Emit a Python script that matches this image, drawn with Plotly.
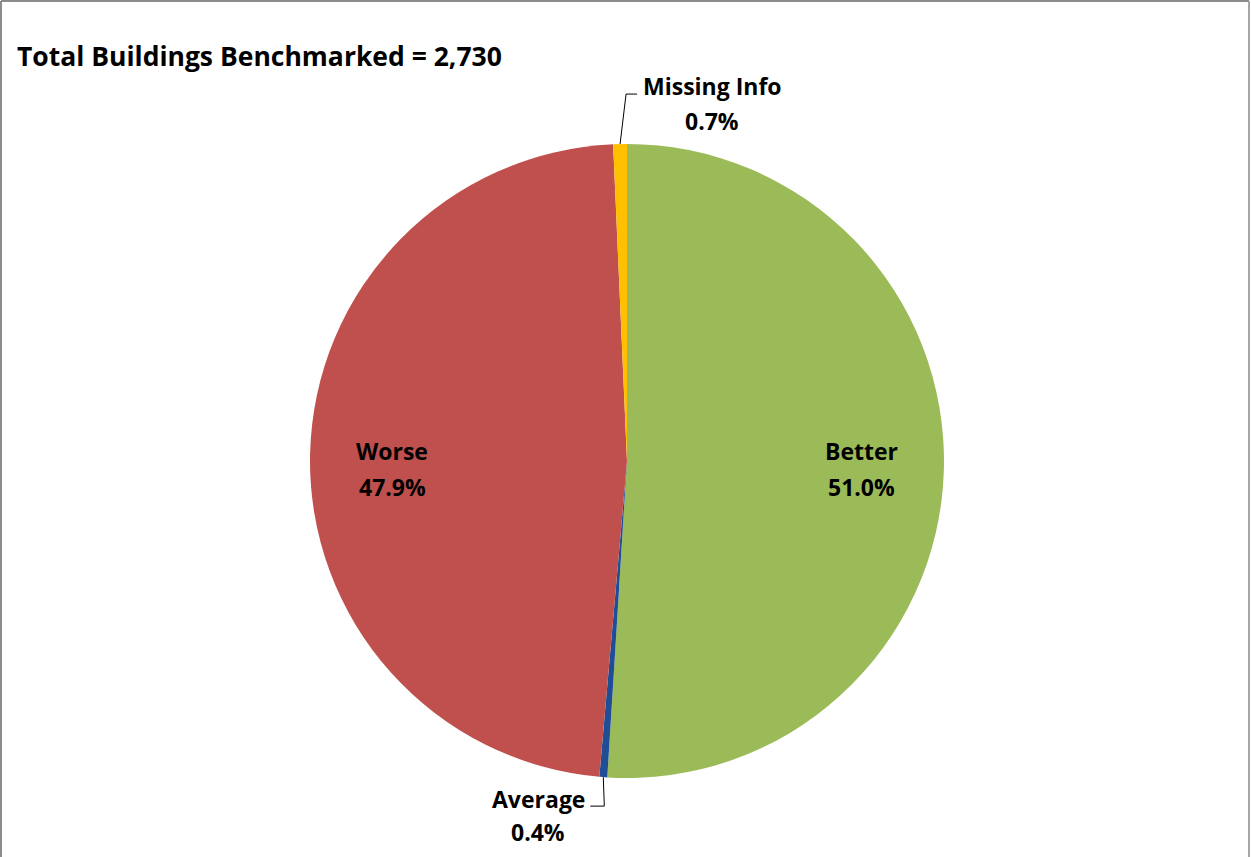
import math
import plotly.graph_objects as go

# ---- data ----
categories = ["Better", "Average", "Worse", "Missing Info"]
counts = [1392, 11, 1308, 19]
pct_labels = ["51.0%", "0.4%", "47.9%", "0.7%"]
colors = ["#9BBB59", "#1F4E96", "#C0504D", "#FFC000"]
title_text = "Total Buildings Benchmarked = 2,730"

# ---- layout geometry (pixels) ----
W, H = 1251, 857
cx, cy, R = 627, 461, 317
FONT = "Open Sans"
FS = 23
FS_TITLE = 26.5

def px(x):
    return x / W

def py(y):
    return 1 - y / H

fig = go.Figure(go.Pie(
    labels=categories,
    values=counts,
    sort=False,
    direction="clockwise",
    rotation=0,
    marker=dict(colors=colors, line=dict(width=0)),
    textinfo="none",
    hoverinfo="label+percent",
    showlegend=False,
    domain=dict(x=[px(cx - R), px(cx + R)], y=[py(cy + R), py(cy - R)]),
))

# slice mid-angles computed from data
total = sum(counts)
mids = []
acc = 0
for v in counts:
    a0 = acc / total * 360
    acc += v
    a1 = acc / total * 360
    mids.append((a0 + a1) / 2)

def point(angle_deg, r):
    t = math.radians(angle_deg)
    return cx + r * math.sin(t), cy - r * math.cos(t)

annotations = []
shapes = []

def two_line(x, y1, y2, l1, l2):
    for yy, txt in ((y1, l1), (y2, l2)):
        annotations.append(dict(
            x=px(x), y=py(yy), xref="paper", yref="paper",
            text="<b>" + txt + "</b>", showarrow=False,
            xanchor="center", yanchor="middle",
            font=dict(family=FONT, size=FS, color="#000000"),
        ))

# inside labels for large slices
for i in (0, 2):
    x, _ = point(mids[i], 0.74 * R)
    two_line(x, cy - 10, cy + 26, categories[i], pct_labels[i])

# outside labels with leader lines
# Average
ex, ey = point(mids[1], R)
shapes.append(dict(type="path", xref="paper", yref="paper",
                   path=f"M {px(ex)} {py(ey)} L {px(ex+1)} {py(ey+29)} L {px(ex-13)} {py(ey+29)}",
                   line=dict(color="#000000", width=1)))
two_line(ex - 65, ey + 22, ey + 55, categories[1], pct_labels[1])

# Missing Info
ex, ey = point(mids[3], R)
shapes.append(dict(type="path", xref="paper", yref="paper",
                   path=f"M {px(ex)} {py(ey)} L {px(ex+6)} {py(ey-50)} L {px(ex+17)} {py(ey-50)}",
                   line=dict(color="#000000", width=1)))
two_line(ex + 92, ey - 58, ey - 23, categories[3], pct_labels[3])

# title
annotations.append(dict(
    x=px(15), y=py(56), xref="paper", yref="paper",
    text="<b>" + title_text + "</b>", showarrow=False,
    xanchor="left", yanchor="middle",
    font=dict(family=FONT, size=FS_TITLE, color="#000000"),
))

# chart frame (top, left, right)
shapes.append(dict(type="line", xref="paper", yref="paper",
                   x0=px(1), y0=py(1), x1=px(W - 2), y1=py(1),
                   line=dict(color="#8C8C8C", width=2)))
shapes.append(dict(type="line", xref="paper", yref="paper",
                   x0=px(1), y0=py(1), x1=px(1), y1=py(H),
                   line=dict(color="#8C8C8C", width=2)))
shapes.append(dict(type="line", xref="paper", yref="paper",
                   x0=px(W - 2), y0=py(1), x1=px(W - 2), y1=py(H),
                   line=dict(color="#A6A6A6", width=2)))

fig.update_layout(
    width=W, height=H,
    margin=dict(l=0, r=0, t=0, b=0),
    paper_bgcolor="#FFFFFF",
    plot_bgcolor="#FFFFFF",
    annotations=annotations,
    shapes=shapes,
)

fig.write_html(
    "out.html",
    config={"displayModeBar": False},
    post_script="document.body.style.margin='0';document.body.style.overflow='hidden';",
)
